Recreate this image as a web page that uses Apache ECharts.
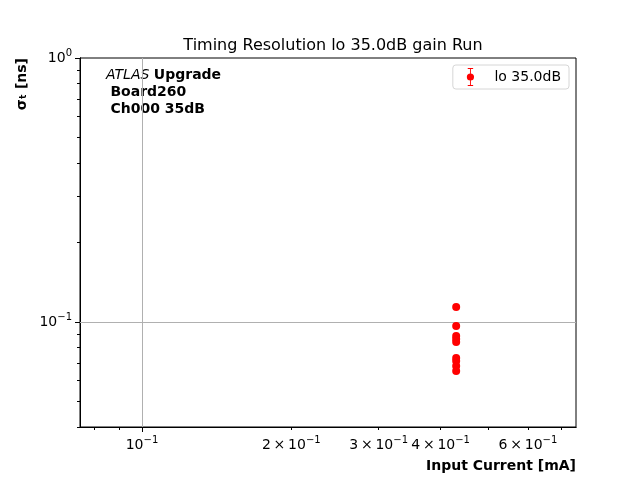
<!DOCTYPE html>
<html>
<head>
<meta charset="utf-8">
<script src="https://cdn.jsdelivr.net/npm/echarts@6/dist/echarts.min.js"></script>
<style>
  html, body { margin: 0; padding: 0; background: #fff; }
  #chart { width: 640px; height: 480px; }
</style>
</head>
<body>
<div id="chart"></div>
<script>
// data
const seriesName = 'lo 35.0dB'
const currentX = [0.43, 0.43, 0.43, 0.43, 0.43, 0.43, 0.43, 0.43, 0.43]
const sigmaT = [0.114, 0.0966, 0.0885, 0.0862, 0.0840, 0.0731, 0.0712, 0.0681, 0.0652]

// tick positions
const xMajorTicks = [0.1]
const xMinorTicks = [0.08, 0.09, 0.2, 0.3, 0.4, 0.5, 0.6, 0.7]
const xMinorLabels = [0.2, 0.3, 0.4, 0.6]
const yMajorTicks = [0.1, 1]
const yMinorTicks = [0.04, 0.05, 0.06, 0.07, 0.08, 0.09, 0.2, 0.3, 0.4, 0.5, 0.6, 0.7, 0.8, 0.9]

const font = 'DejaVu Sans'
const rich = {
  b: { fontFamily: font, fontSize: 14, color: '#000' },
  s: { fontFamily: font, fontSize: 10, color: '#000', padding: [0, 0, 10, 0] },
}

function sciLabel(v) {
  const exp = Math.floor(Math.log10(v) + 1e-9)
  const mant = Math.round(v / Math.pow(10, exp))
  const e = exp < 0 ? '\u2212' + (-exp) : String(exp)
  if (mant === 1)
    return '{b|10}{s|' + e + '}'
  return '{b|' + mant + '\u2009\u00d7\u200910}{s|' + e + '}'
}

function logAxis(extra) {
  return Object.assign({
    type: 'log',
    logBase: 10,
    axisLine: { show: true, lineStyle: { color: '#000', width: 1 } },
    splitLine: { show: false },
    minorTick: { show: false },
  }, extra)
}

const chart = echarts.init(document.getElementById('chart'), null, { renderer: 'canvas' })

chart.setOption({
  animation: false,
  backgroundColor: '#fff',
  title: {
    text: 'Timing Resolution lo 35.0dB gain Run',
    left: 328,
    top: 33,
    textAlign: 'center',
    textStyle: { fontFamily: font, fontSize: 16, fontWeight: 'normal', color: '#000' },
  },
  grid: {
    left: 80, right: 64, top: 58, bottom: 53,
    show: true, borderColor: '#000', borderWidth: 1, backgroundColor: 'transparent',
  },
  legend: {
    data: [seriesName],
    right: 71,
    top: 65,
    itemWidth: 10,
    itemHeight: 18,
    itemGap: 5,
    padding: [3, 8, 3, 14],
    backgroundColor: '#fff',
    borderColor: '#d6d6d6',
    borderWidth: 1,
    borderRadius: 3,
    icon: 'path://M2,0H8V1H2Z M4.5,1H5.5V6H4.5Z M4.5,14H5.5V19H4.5Z M2,19H8V20H2Z M1,10A4,4 0 1,1 9,10A4,4 0 1,1 1,10Z',
    textStyle: { fontFamily: font, fontSize: 14, color: '#000', padding: [0, 0, 0, 14] },
  },
  xAxis: [
    logAxis({
      min: 0.075, max: 0.75, position: 'bottom',
      axisTick: { show: true, length: 3, customValues: xMinorTicks, lineStyle: { color: '#000' } },
      axisLabel: { customValues: xMinorLabels, formatter: sciLabel, rich: rich, margin: 8 },
      name: 'Input Current [mA]',
      nameLocation: 'end',
      nameGap: 0,
      nameTextStyle: {
        fontFamily: font, fontSize: 14, fontWeight: 'bold', color: '#000',
        align: 'right', verticalAlign: 'top', padding: [32, 0, 0, 0],
      },
    }),
    logAxis({
      min: 0.075, max: 0.75, position: 'bottom',
      axisTick: { show: true, length: 5, customValues: xMajorTicks, lineStyle: { color: '#000' } },
      axisLabel: { customValues: xMajorTicks, formatter: sciLabel, rich: rich, margin: 8 },
    }),
  ],
  yAxis: [
    logAxis({
      min: 0.04, max: 1, position: 'left',
      axisTick: { show: true, length: 3, customValues: yMinorTicks, lineStyle: { color: '#000' } },
      axisLabel: { show: false },
    }),
    logAxis({
      min: 0.04, max: 1, position: 'left',
      axisTick: { show: true, length: 5, customValues: yMajorTicks, lineStyle: { color: '#000' } },
      axisLabel: { customValues: yMajorTicks, formatter: sciLabel, rich: rich, margin: 8 },
    }),
  ],
  graphic: [
    {
      type: 'text', x: 22, y: 58, rotation: Math.PI / 2,
      style: {
        text: '\u03c3\u209c [ns]', fill: '#000',
        fontFamily: font, fontSize: 14, fontWeight: 'bold',
        align: 'right', verticalAlign: 'middle',
      },
    },
    {
      type: 'text', left: 106, top: 67,
      style: {
        text: '{i|ATLAS} {bo|Upgrade}\n {bo|Board260}\n {bo|Ch000 35dB}',
        rich: {
          i: { fontFamily: font, fontSize: 14, fontStyle: 'italic', color: '#000', lineHeight: 17 },
          bo: { fontFamily: font, fontSize: 14, fontWeight: 'bold', color: '#000', lineHeight: 17 },
        },
        fill: '#000', fontFamily: font, fontSize: 14, lineHeight: 17,
      },
    },
  ],
  series: [
    {
      name: seriesName,
      type: 'scatter',
      xAxisIndex: 0,
      yAxisIndex: 0,
      symbol: 'circle',
      symbolSize: 8,
      itemStyle: { color: '#ff0000', opacity: 1 },
      data: currentX.map((x, i) => [x, sigmaT[i]]),
      z: 5,
      markLine: {
        silent: true,
        symbol: 'none',
        label: { show: false },
        lineStyle: { color: '#b0b0b0', width: 1, type: 'solid' },
        data: [{ xAxis: 0.1 }, { yAxis: 0.1 }],
        z: 1,
      },
    },
  ],
})
</script>
</body>
</html>
